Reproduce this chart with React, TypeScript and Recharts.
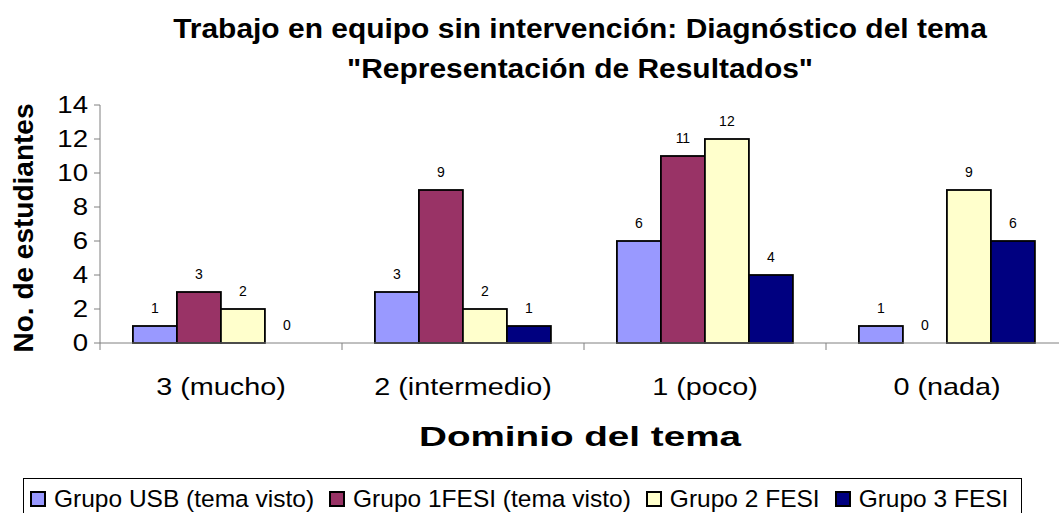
import React from 'react';
import { BarChart, Bar, XAxis, YAxis, LabelList } from 'recharts';

const categories = ['3 (mucho)', '2 (intermedio)', '1 (poco)', '0 (nada)'];
const grupoUSB = [1, 3, 6, 1];
const grupo1FESI = [3, 9, 11, 0];
const grupo2FESI = [2, 2, 12, 9];
const grupo3FESI = [0, 1, 4, 6];
const seriesNames = ['Grupo USB (tema visto)', 'Grupo 1FESI (tema visto)', 'Grupo 2 FESI', 'Grupo 3 FESI'];
const seriesKeys = ['usb', 'f1', 'f2', 'f3'];
const seriesColors = ['#9999FF', '#993366', '#FFFFCC', '#000080'];
const yTicks = [0, 2, 4, 6, 8, 10, 12, 14];

const data = categories.map((c, i) => ({
  cat: c,
  usb: grupoUSB[i],
  f1: grupo1FESI[i],
  f2: grupo2FESI[i],
  f3: grupo3FESI[i],
}));

const CHART_W = 1068;
const CHART_H = 513;
const YAXIS_W = 100;
const BAND = (CHART_W - YAXIS_W) / categories.length;
const FONT = '"Liberation Sans", Arial, sans-serif';
const STRETCH = 1.2;

const XTick = (props: any) => {
  const { x, y, payload, index } = props;
  return (
    <g>
      <line x1={x + BAND / 2} y1={y} x2={x + BAND / 2} y2={y + 7} stroke="#808080" strokeWidth={1} />
      {index === 0 && <line x1={x - BAND / 2} y1={y} x2={x - BAND / 2} y2={y + 7} stroke="#808080" strokeWidth={1} />}
      <text transform={`translate(${x},${y + 52}) scale(${STRETCH},1)`} textAnchor="middle" fontSize={24} fontFamily={FONT} fill="#000">
        {payload.value}
      </text>
    </g>
  );
};

const YTick = (props: any) => {
  const { x, y, payload } = props;
  return (
    <text transform={`translate(${x},${y}) scale(${STRETCH},1)`} dy="0.355em" textAnchor="end" fontSize={23} fontFamily={FONT} fill="#000">
      {payload.value}
    </text>
  );
};

const BarShape = (props: any) => {
  const { x, y, width, height, fill, value } = props;
  const v = Array.isArray(value) ? value[1] - value[0] : value;
  if (!v) return null;
  return <rect x={x} y={y} width={width} height={height} fill={fill} stroke="#000" strokeWidth={1.8} />;
};

const BarLabel = (props: any) => {
  const { x, y, width, value } = props;
  return (
    <text x={Number(x) + Number(width) / 2} y={Number(y) - 13} textAnchor="middle" fontSize={14} fontFamily={FONT} fill="#000">
      {String(value)}
    </text>
  );
};

export default function App() {
  return (
    <div style={{ position: 'absolute', left: 0, top: 0, width: 1059, height: 513, overflow: 'hidden', background: '#fff', fontFamily: FONT }}>
      <div style={{ position: 'absolute', left: 0, top: 0 }}>
        <BarChart
          width={CHART_W}
          height={CHART_H}
          data={data}
          margin={{ top: 105, right: 0, left: 0, bottom: 140 }}
          barCategoryGap="13.6%"
          barGap={0}
        >
          <XAxis
            dataKey="cat"
            height={30}
            axisLine={{ stroke: '#808080' }}
            tickLine={false}
            tickSize={0}
            tickMargin={0}
            tick={<XTick />}
            interval={0}
          />
          <YAxis
            width={YAXIS_W}
            domain={[0, 14]}
            ticks={yTicks}
            interval={0}
            axisLine={{ stroke: '#808080' }}
            tickLine={{ stroke: '#808080' }}
            tickSize={6}
            tickMargin={6}
            tick={<YTick />}
          />
          {seriesKeys.map((k, i) => (
            <Bar
              key={k}
              dataKey={k}
              name={seriesNames[i]}
              fill={seriesColors[i]}
              stroke="#000"
              strokeWidth={1.8}
              minPointSize={0.01}
              shape={<BarShape />}
              isAnimationActive={false}
            >
              <LabelList dataKey={k} content={<BarLabel />} />
            </Bar>
          ))}
        </BarChart>
      </div>
      <svg width={1059} height={513} style={{ position: 'absolute', left: 0, top: 0, pointerEvents: 'none' }}>
        <g fontFamily={FONT} fontWeight="bold" fill="#000" textAnchor="middle">
          <text transform="translate(580,38) scale(1.07,1)" fontSize={28}>Trabajo en equipo sin intervención: Diagnóstico del tema</text>
          <text transform="translate(580,78) scale(1.07,1)" fontSize={28}>"Representación de Resultados"</text>
          <text transform="translate(580,446) scale(1.38,1)" fontSize={28}>Dominio del tema</text>
          <text transform="translate(33,228) rotate(-90)" fontSize={28}>No. de estudiantes</text>
        </g>
      </svg>
      <div style={{ position: 'absolute', left: 23, top: 478, width: 999, height: 40, border: '1px solid #000', boxSizing: 'border-box', display: 'flex', alignItems: 'flex-start', paddingLeft: 6, paddingTop: 7, fontSize: 24.5, lineHeight: '26px', whiteSpace: 'nowrap' }}>
        {seriesNames.map((n, i) => (
          <div key={n} style={{ display: 'flex', alignItems: 'center', marginRight: 15 }}>
            <span style={{ display: 'inline-block', width: 12, height: 12, background: seriesColors[i], border: '2px solid #000', marginRight: 8 }} />
            <span>{n}</span>
          </div>
        ))}
      </div>
    </div>
  );
}
